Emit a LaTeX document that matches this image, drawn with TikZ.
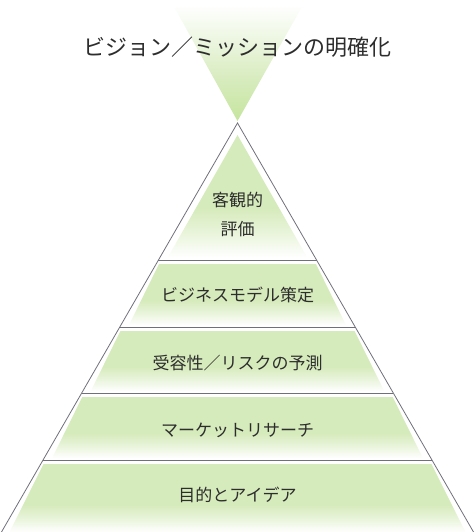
\documentclass[tikz,border=0pt]{standalone}
\usepackage{fontspec}
\setmainfont{Noto Sans CJK JP}
\usetikzlibrary{calc}
\definecolor{pgr}{RGB}{214,235,188}
\definecolor{pgrdeep}{RGB}{198,229,158}
\definecolor{edgegray}{RGB}{112,112,122}
\definecolor{txt}{RGB}{45,45,45}
\pgfdeclareverticalshading{bandfade}{100bp}{color(0bp)=(white); color(25bp)=(white); color(33bp)=(pgr!45); color(45bp)=(pgr); color(100bp)=(pgr)}
\pgfdeclareverticalshading{topfade}{100bp}{color(0bp)=(pgrdeep); color(25bp)=(pgrdeep); color(42bp)=(pgr); color(75bp)=(white); color(100bp)=(white)}
\tikzset{
  outline/.style={draw=edgegray, line width=0.8pt},
  bandfill/.style={shading=bandfade},
  label/.style={text=txt, font=\fontsize{17}{29}\selectfont, align=center, inner sep=0pt},
  titletext/.style={text=txt, font=\fontsize{22}{24}\selectfont, inner sep=0pt}
}
\begin{document}
\begin{tikzpicture}[x=1pt,y=-1pt]
\useasboundingbox (0,0) rectangle (474,532);
% inverted triangle above the pyramid
\shade[shading=topfade] (173,5) -- (303,5) -- (237.5,121) -- cycle;
% pyramid geometry
\coordinate (A) at (237.5,123);
\coordinate (BL) at (1.5,532);
\coordinate (BR) at (473.5,532);
% inner fills
\shade[bandfill] (237.5,135) -- (307,257) -- (168,257) -- cycle;
\shade[bandfill] (159,264) -- (316,264) -- (346,325) -- (129,325) -- cycle;
\shade[bandfill] (120.4,331) -- (354.6,331) -- (384.2,391) -- (90.8,391) -- cycle;
\shade[bandfill] (82.3,397) -- (392.7,397) -- (422.9,458) -- (52.1,458) -- cycle;
\shade[bandfill] (43.6,464) -- (431.4,464) -- (465.5,532) -- (9.5,532) -- cycle;
% outline
\draw[outline] (BL) -- (A) -- (BR);
\foreach \t in {0.33496, 0.49878, 0.66015, 0.82396}{
  \draw[outline] ($(A)!\t!(BL)$) -- ($(A)!\t!(BR)$);
}
% texts
\node[titletext] (title) at (237,47) {ビジョン／ミッションの明確化};
\node[label] (l1) at (237.5,214) {客観的\\評価};
\node[label] (l2) at (237.5,295) {ビジネスモデル策定};
\node[label] (l3) at (237.5,363) {受容性／リスクの予測};
\node[label] (l4) at (237.5,430) {マーケットリサーチ};
\node[label] (l5) at (237.5,495) {目的とアイデア};
\end{tikzpicture}
\end{document}
